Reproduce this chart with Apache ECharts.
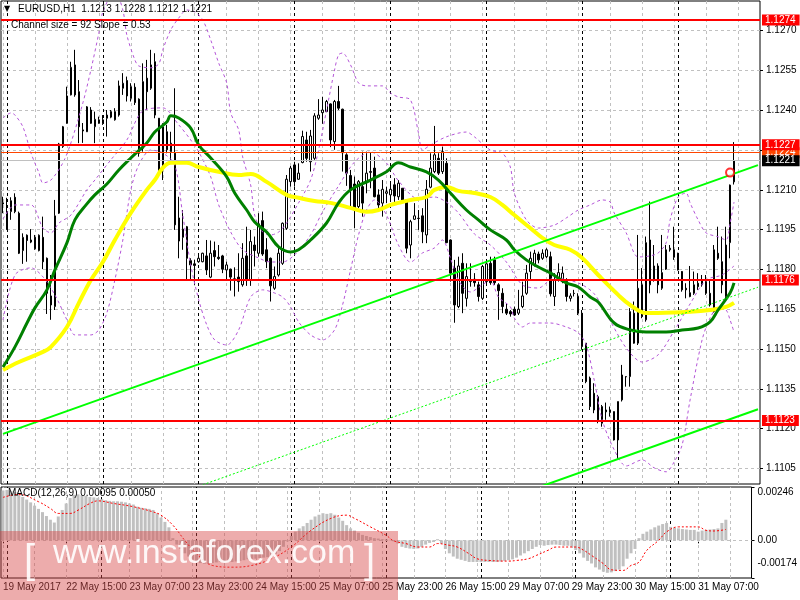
<!DOCTYPE html>
<html><head><meta charset="utf-8">
<script src="https://cdn.jsdelivr.net/npm/echarts@6/dist/echarts.min.js"></script>
<style>html,body{margin:0;padding:0;background:#fff}#c{width:800px;height:600px}</style>
</head><body><div id="c"></div>
<script>
// ---------- DATA ----------
const tickLabels = ['19 May 2017','22 May 15:00','23 May 07:00','23 May 23:00','24 May 15:00','25 May 07:00','25 May 23:00','26 May 15:00','29 May 07:00','29 May 23:00','30 May 15:00','31 May 07:00'];
const daySeparators = [1,25,49,73,97,121,145,169];
// [open, high, low, close]
const ohlc = [
[1.12051,1.12074,1.12012,1.12047],[1.11952,1.12070,1.11949,1.12012],[1.12018,1.12072,1.11987,1.12059],[1.12072,1.12087,1.12012,1.12018],
[1.12012,1.12018,1.11858,1.11861],[1.11871,1.11936,1.11821,1.11921],[1.11929,1.11932,1.11829,1.11909],[1.11903,1.11952,1.11899,1.11911],
[1.11921,1.11930,1.11874,1.11878],[1.11871,1.11932,1.11868,1.11929],[1.11921,1.11999,1.11801,1.11829],[1.11842,1.11845,1.11632,1.11710],
[1.11700,1.11779,1.11610,1.11666],[1.11660,1.12062,1.11647,1.12002],[1.12012,1.12277,1.12009,1.12273],[1.12263,1.12341,1.12258,1.12338],
[1.12351,1.12489,1.12349,1.12454],[1.12458,1.12583,1.12456,1.12562],[1.12571,1.12628,1.12451,1.12458],[1.12470,1.12514,1.12276,1.12338],
[1.12326,1.12352,1.12277,1.12322],[1.12319,1.12416,1.12318,1.12413],[1.12401,1.12412,1.12349,1.12351],[1.12338,1.12395,1.12276,1.12366],
[1.12351,1.12376,1.12349,1.12364],[1.12351,1.12382,1.12345,1.12364],[1.12370,1.12401,1.12301,1.12382],[1.12374,1.12401,1.12370,1.12395],
[1.12364,1.12408,1.12361,1.12395],[1.12382,1.12512,1.12376,1.12492],[1.12483,1.12540,1.12458,1.12502],[1.12512,1.12527,1.12433,1.12454],
[1.12445,1.12502,1.12433,1.12489],[1.12487,1.12502,1.12420,1.12429],[1.12442,1.12445,1.12225,1.12238],[1.12257,1.12577,1.12244,1.12508],
[1.12521,1.12590,1.12401,1.12470],[1.12483,1.12628,1.12477,1.12571],[1.12583,1.12615,1.12370,1.12382],[1.12370,1.12371,1.12172,1.12175],
[1.12182,1.12351,1.12137,1.12338],[1.12319,1.12345,1.12238,1.12251],[1.12244,1.12319,1.12200,1.12276],[1.12238,1.12483,1.11949,1.11968],
[1.11994,1.12074,1.11842,1.11907],[1.11921,1.12024,1.11874,1.11952],[1.11961,1.11964,1.11760,1.11842],[1.11833,1.11842,1.11760,1.11817],
[1.11821,1.11836,1.11742,1.11815],[1.11829,1.11855,1.11825,1.11842],[1.11829,1.11863,1.11827,1.11861],[1.11851,1.11911,1.11779,1.11798],
[1.11771,1.11909,1.11767,1.11861],[1.11871,1.11905,1.11811,1.11848],[1.11846,1.11892,1.11836,1.11841],[1.11851,1.11855,1.11786,1.11801],
[1.11798,1.11829,1.11760,1.11817],[1.11801,1.11803,1.11720,1.11771],[1.11760,1.11808,1.11698,1.11765],[1.11771,1.11861,1.11716,1.11754],
[1.11742,1.11899,1.11735,1.11842],[1.11851,1.11961,1.11738,1.11758],[1.11760,1.11949,1.11738,1.11905],[1.11892,1.11924,1.11811,1.11871],
[1.11861,1.12012,1.11848,1.11972],[1.11984,1.12018,1.11851,1.11858],[1.11874,1.11918,1.11805,1.11829],[1.11842,1.11845,1.11679,1.11738],
[1.11729,1.11811,1.11723,1.11773],[1.11779,1.11886,1.11773,1.11861],[1.11823,1.11977,1.11817,1.11974],[1.11955,1.12156,1.11949,1.12140],
[1.12131,1.12190,1.12112,1.12182],[1.12194,1.12206,1.12112,1.12131],[1.12140,1.12200,1.12138,1.12163],[1.12203,1.12323,1.12200,1.12301],
[1.12288,1.12319,1.12206,1.12219],[1.12206,1.12326,1.12169,1.12303],[1.12219,1.12389,1.12213,1.12379],[1.12370,1.12442,1.12364,1.12382],
[1.12391,1.12451,1.12349,1.12401],[1.12395,1.12439,1.12393,1.12433],[1.12424,1.12426,1.12261,1.12288],[1.12282,1.12439,1.12251,1.12433],
[1.12433,1.12492,1.12401,1.12408],[1.12404,1.12406,1.12169,1.12240],[1.12232,1.12238,1.12115,1.12163],[1.12154,1.12175,1.12037,1.12100],
[1.12122,1.12150,1.11955,1.12024],[1.12037,1.12137,1.12031,1.12131],[1.12112,1.12244,1.11999,1.12050],[1.12131,1.12244,1.12087,1.12163],
[1.12169,1.12240,1.12106,1.12166],[1.12182,1.12225,1.12072,1.12074],[1.12081,1.12102,1.12018,1.12043],[1.12050,1.12137,1.11999,1.12102],
[1.12087,1.12112,1.12050,1.12093],[1.12081,1.12131,1.12062,1.12102],[1.12119,1.12144,1.12050,1.12077],[1.12074,1.12137,1.12062,1.12125],
[1.12106,1.12107,1.12050,1.12062],[1.12062,1.12064,1.11861,1.11880],[1.11892,1.11987,1.11842,1.11980],[1.11989,1.12050,1.11987,1.12002],
[1.11993,1.12024,1.11949,1.11992],[1.12002,1.12031,1.11899,1.11942],[1.11930,1.12137,1.11899,1.12102],[1.12110,1.12238,1.12106,1.12182],
[1.12169,1.12341,1.12163,1.12232],[1.12219,1.12238,1.12156,1.12163],[1.12169,1.12263,1.12160,1.12244],[1.12200,1.12219,1.11899,1.11901],
[1.11911,1.11913,1.11754,1.11786],[1.11805,1.11836,1.11599,1.11666],[1.11660,1.11848,1.11654,1.11813],[1.11823,1.11861,1.11635,1.11710],
[1.11691,1.11823,1.11660,1.11773],[1.11754,1.11823,1.11735,1.11760],[1.11763,1.11786,1.11735,1.11750],[1.11742,1.11754,1.11679,1.11698],
[1.11691,1.11817,1.11685,1.11811],[1.11754,1.11838,1.11748,1.11821],[1.11823,1.11848,1.11742,1.11750],[1.11836,1.11848,1.11742,1.11750],
[1.11742,1.11748,1.11610,1.11720],[1.11710,1.11729,1.11635,1.11660],[1.11650,1.11673,1.11628,1.11635],[1.11641,1.11647,1.11622,1.11632],
[1.11650,1.11660,1.11625,1.11628],[1.11635,1.11723,1.11628,1.11650],[1.11660,1.11754,1.11654,1.11700],[1.11710,1.11817,1.11704,1.11786],
[1.11792,1.11867,1.11760,1.11842],[1.11817,1.11874,1.11811,1.11861],[1.11858,1.11867,1.11823,1.11836],[1.11842,1.11876,1.11836,1.11861],
[1.11848,1.11880,1.11842,1.11874],[1.11848,1.11867,1.11698,1.11708],[1.11698,1.11786,1.11662,1.11760],[1.11767,1.11823,1.11754,1.11788],
[1.11754,1.11811,1.11748,1.11786],[1.11754,1.11767,1.11679,1.11698],[1.11691,1.11710,1.11679,1.11700],[1.11710,1.11723,1.11698,1.11709],
[1.11698,1.11710,1.11628,1.11635],[1.11635,1.11647,1.11497,1.11509],[1.11522,1.11522,1.11371,1.11377],[1.11390,1.11396,1.11270,1.11283],
[1.11333,1.11371,1.11258,1.11270],[1.11320,1.11327,1.11220,1.11233],[1.11220,1.11289,1.11207,1.11283],[1.11270,1.11298,1.11233,1.11263],
[1.11260,1.11283,1.11245,1.11270],[1.11264,1.11264,1.11155,1.11157],[1.11157,1.11302,1.11082,1.11302],[1.11308,1.11440,1.11302,1.11402],
[1.11395,1.11397,1.11358,1.11396],[1.11396,1.11654,1.11358,1.11641],[1.11635,1.11679,1.11520,1.11522],[1.11522,1.11930,1.11515,1.11729],
[1.11742,1.11805,1.11616,1.11622],[1.11610,1.11924,1.11603,1.11901],[1.11911,1.12056,1.11710,1.11742],[1.11760,1.11892,1.11754,1.11813],
[1.11813,1.11823,1.11710,1.11742],[1.11729,1.11930,1.11723,1.11788],[1.11801,1.11892,1.11798,1.11874],[1.11874,1.11892,1.11867,1.11880],
[1.11874,1.11961,1.11836,1.11846],[1.11861,1.11863,1.11796,1.11798],[1.11792,1.11794,1.11716,1.11723],[1.11729,1.11748,1.11691,1.11723],
[1.11712,1.11813,1.11695,1.11698],[1.11710,1.11792,1.11704,1.11742],[1.11748,1.11786,1.11723,1.11735],[1.11742,1.11779,1.11735,1.11758],
[1.11754,1.11779,1.11704,1.11710],[1.11710,1.11760,1.11660,1.11666],[1.11641,1.11892,1.11637,1.11874],[1.11861,1.11961,1.11836,1.11842],
[1.11829,1.11924,1.11710,1.11742],[1.11698,1.11961,1.11691,1.11892],[1.11901,1.12120,1.11842,1.12118],[1.12130,1.12280,1.12120,1.12210]
];
// moving averages read as [barIndex, price]
const maYellow = [[0,1.11421],[4,1.11451],[10,1.11489],[12,1.11508],[16,1.11583],[19,1.11674],[22,1.11760],[25,1.11828],[28,1.11911],[32,1.12013],[36,1.12100],[38,1.12137],[40,1.12183],[42,1.12202],[46,1.12202],[49,1.12186],[54,1.12168],[59,1.12156],[62,1.12160],[66,1.12130],[71,1.12081],[74,1.12070],[78,1.12058],[82,1.12051],[87,1.12032],[91,1.12017],[94,1.12024],[97,1.12043],[99,1.12051],[102,1.12062],[106,1.12073],[108,1.12100],[111,1.12111],[114,1.12096],[118,1.12088],[122,1.12073],[125,1.12043],[128,1.12005],[132,1.11956],[135,1.11919],[138,1.11892],[142,1.11874],[145,1.11843],[149,1.11779],[154,1.11704],[157,1.11666],[161,1.11636],[164,1.11636],[172,1.11640],[177,1.11647],[181,1.11659],[183,1.11674]];
const maGreen = [[0,1.11432],[3,1.11508],[6,1.11598],[8,1.11655],[11,1.11723],[13,1.11798],[16,1.11900],[18,1.11987],[21,1.12047],[23,1.12081],[26,1.12122],[29,1.12175],[32,1.12220],[36,1.12277],[38,1.12318],[41,1.12356],[42,1.12379],[44,1.12371],[47,1.12333],[49,1.12269],[52,1.12220],[56,1.12149],[58,1.12088],[61,1.12024],[63,1.11979],[66,1.11941],[69,1.11885],[72,1.11866],[74,1.11874],[77,1.11911],[81,1.11975],[84,1.12051],[87,1.12100],[92,1.12137],[96,1.12168],[99,1.12202],[102,1.12186],[106,1.12168],[109,1.12137],[112,1.12088],[116,1.12024],[119,1.11987],[122,1.11949],[126,1.11911],[128,1.11874],[131,1.11836],[134,1.11809],[137,1.11787],[141,1.11749],[144,1.11734],[147,1.11696],[149,1.11677],[153,1.11598],[157,1.11572],[161,1.11564],[166,1.11564],[170,1.11572],[174,1.11579],[177,1.11602],[179,1.11647],[182,1.11711],[183,1.11749]];
// Bollinger-style bands (purple dashed): upper, middle, lower
const bandUpper = [[0,1.12371],[2,1.12390],[3,1.12382],[5,1.12337],[7,1.12239],[9,1.12164],[10,1.12126],[12,1.12137],[15,1.12202],[17,1.12277],[20,1.12428],[22,1.12552],[24,1.12692],[25,1.12771],[28,1.12850],[30,1.12778],[31,1.12684],[33,1.12590],[34,1.12567],[37,1.12560],[39,1.12575],[40,1.12628],[42,1.12703],[44,1.12748],[46,1.12778],[48,1.12771],[50,1.12741],[52,1.12665],[54,1.12578],[56,1.12503],[57,1.12390],[59,1.12326],[60,1.12224],[62,1.12118],[63,1.12005],[65,1.11941],[67,1.11930],[69,1.11941],[71,1.11975],[74,1.12051],[77,1.12137],[79,1.12250],[81,1.12401],[83,1.12552],[84,1.12609],[85,1.12616],[87,1.12571],[89,1.12503],[91,1.12492],[95,1.12492],[97,1.12465],[99,1.12450],[102,1.12439],[104,1.12315],[105,1.12250],[107,1.12269],[111,1.12300],[116,1.12318],[118,1.12300],[122,1.12250],[125,1.12239],[127,1.12186],[128,1.12088],[131,1.11987],[134,1.11956],[138,1.11967],[141,1.11994],[144,1.12024],[147,1.12043],[150,1.12062],[152,1.12054],[153,1.12013],[156,1.11938],[159,1.11847],[162,1.11851],[164,1.11862],[166,1.11900],[167,1.11987],[169,1.12073],[171,1.12088],[172,1.12051],[174,1.11987],[176,1.11938],[179,1.11923],[181,1.11911],[182,1.11972],[183,1.12054]];
const bandMiddle = [[0,1.11990],[3,1.12043],[7,1.12043],[10,1.11956],[12,1.11938],[14,1.11975],[17,1.12005],[21,1.12100],[23,1.12137],[27,1.12213],[31,1.12288],[35,1.12398],[40,1.12409],[44,1.12345],[47,1.12288],[49,1.12243],[52,1.12149],[54,1.12043],[57,1.11941],[60,1.11874],[64,1.11843],[67,1.11828],[70,1.11828],[73,1.11855],[77,1.11930],[80,1.12017],[84,1.12115],[88,1.12205],[92,1.12243],[96,1.12201],[99,1.12134],[104,1.12066],[108,1.12073],[111,1.12054],[114,1.12013],[118,1.11934],[122,1.11892],[126,1.11828],[130,1.11742],[134,1.11730],[138,1.11768],[144,1.11749],[148,1.11708],[152,1.11606],[156,1.11504],[160,1.11451],[164,1.11478],[168,1.11568],[172,1.11670],[176,1.11760],[180,1.11779],[183,1.11813]];
const bandLower = [[0,1.11610],[3,1.11779],[7,1.11806],[10,1.11772],[13,1.11704],[16,1.11610],[18,1.11553],[22,1.11553],[24,1.11572],[26,1.11636],[28,1.11760],[30,1.11911],[32,1.12100],[34,1.12194],[37,1.12250],[40,1.12239],[43,1.12194],[45,1.12005],[47,1.11817],[49,1.11685],[51,1.11591],[53,1.11534],[56,1.11515],[59,1.11572],[62,1.11696],[65,1.11723],[68,1.11711],[70,1.11696],[72,1.11659],[74,1.11602],[77,1.11553],[80,1.11534],[83,1.11572],[85,1.11666],[87,1.11798],[89,1.11930],[91,1.12024],[93,1.12062],[96,1.12005],[99,1.11892],[102,1.11828],[105,1.11862],[108,1.11881],[110,1.11911],[112,1.11843],[114,1.11760],[117,1.11715],[120,1.11742],[122,1.11760],[124,1.11696],[127,1.11659],[128,1.11617],[130,1.11583],[132,1.11598],[137,1.11598],[141,1.11583],[144,1.11561],[146,1.11515],[148,1.11383],[150,1.11233],[153,1.11120],[156,1.11059],[160,1.11082],[163,1.11052],[166,1.11037],[168,1.11074],[170,1.11138],[172,1.11308],[175,1.11534],[177,1.11617],[179,1.11655],[181,1.11647],[182,1.11610],[183,1.11564]];
const channelUpper = [[0,1.11180],[189,1.12193]];
const channelMiddle = [[0,1.10720],[189,1.11733]];
const channelLower = [[0,1.10260],[189,1.11273]];
const touchPoint = [[182,1.12165]];
const redLevels = [1.1274, 1.1227, 1.1176, 1.1123];
const orangeLevel = 1.1224;
const bidLevel = 1.1221;
const priceTicks = [1.1105,1.1120,1.1135,1.1150,1.1165,1.1180,1.1195,1.1210,1.1225,1.1240,1.1255,1.1270];
const macdHist = [
0.00230,0.00232,0.00228,0.00222,0.00212,0.00200,0.00188,0.00175,0.00160,0.00145,
0.00130,0.00112,0.00095,0.00082,0.00110,0.00140,0.00170,0.00195,0.00210,0.00212,
0.00208,0.00205,0.00200,0.00198,0.00195,0.00190,0.00185,0.00182,0.00180,0.00180,
0.00178,0.00175,0.00170,0.00165,0.00155,0.00150,0.00148,0.00145,0.00140,0.00125,
0.00105,0.00085,0.00060,0.00010,-0.00020,-0.00040,-0.00060,-0.00075,-0.00090,-0.00100,
-0.00105,-0.00108,-0.00108,-0.00105,-0.00102,-0.00100,-0.00100,-0.00100,-0.00100,-0.00098,
-0.00095,-0.00092,-0.00088,-0.00086,-0.00085,-0.00082,-0.00080,-0.00078,-0.00072,-0.00062,
-0.00050,-0.00030,-0.00005,0.00020,0.00040,0.00055,0.00065,0.00080,0.00095,0.00110,
0.00118,0.00125,0.00122,0.00125,0.00118,0.00105,0.00090,0.00070,0.00055,0.00045,
0.00035,0.00025,0.00020,0.00015,0.00010,0.00008,0.00005,0.00004,0.00002,-0.00005,
-0.00015,-0.00030,-0.00035,-0.00038,-0.00040,-0.00038,-0.00030,-0.00020,-0.00012,-0.00008,
0.00005,-0.00015,-0.00040,-0.00060,-0.00075,-0.00085,-0.00090,-0.00095,-0.00100,-0.00100,
-0.00100,-0.00100,-0.00100,-0.00100,-0.00100,-0.00100,-0.00098,-0.00095,-0.00092,-0.00088,
-0.00080,-0.00070,-0.00060,-0.00050,-0.00040,-0.00030,-0.00022,-0.00025,-0.00022,-0.00020,
-0.00020,-0.00022,-0.00025,-0.00025,-0.00030,-0.00045,-0.00060,-0.00080,-0.00095,-0.00107,
-0.00125,-0.00135,-0.00145,-0.00150,-0.00148,-0.00142,-0.00135,-0.00120,-0.00085,-0.00060,
-0.00040,0.00010,0.00030,0.00040,0.00050,0.00060,0.00068,0.00075,0.00080,0.00062,
0.00058,0.00055,0.00052,0.00050,0.00048,0.00048,0.00040,0.00045,0.00048,0.00050,
0.00052,0.00055,0.00080,0.00095];
const macdSignal = [[0,0.00198],[4,0.00212],[9,0.00178],[12,0.00147],[14,0.00124],[17,0.00124],[19,0.00139],[22,0.00170],[24,0.00182],[28,0.00170],[33,0.00155],[38,0.00131],[40,0.00116],[43,0.00070],[46,0.00000],[49,-0.00062],[53,-0.00116],[58,-0.00124],[63,-0.00116],[68,-0.00085],[73,-0.00031],[78,0.00046],[83,0.00101],[87,0.00116],[89,0.00101],[93,0.00062],[97,0.00023],[99,-0.00003],[102,-0.00015],[105,-0.00031],[108,-0.00031],[110,-0.00015],[113,-0.00023],[115,-0.00031],[118,-0.00062],[120,-0.00085],[123,-0.00093],[128,-0.00096],[130,-0.00093],[133,-0.00085],[135,-0.00070],[138,-0.00046],[140,-0.00031],[145,-0.00031],[147,-0.00046],[149,-0.00070],[152,-0.00108],[154,-0.00136],[157,-0.00139],[159,-0.00116],[161,-0.00101],[163,-0.00046],[166,0.00000],[168,0.00039],[171,0.00062],[176,0.00062],[178,0.00046],[180,0.00043],[183,0.00050]];
const macdTicks = [-0.00174, 0, 0.00246];

// ---------- CHART ----------
const N = 190;
const cats = Array.from({length: N}, (_, i) => String(i));
const FONT = "'Liberation Sans', Arial, 'DejaVu Sans', sans-serif";
const GREY = '#c0c0c0';
const PURPLE = '#b455d8';
const nulls = cats.map(() => null);

function vLines() {
  const out = [];
  for (let i = 0; i < N; i += 8) out.push({xAxis: String(i), lineStyle: {color: GREY, type: [3, 3], width: 1}});
  daySeparators.forEach(d => out.push({xAxis: String(d), lineStyle: {color: '#000', type: [3, 3], width: 1}}));
  return out;
}
function lvl(v, color, width, bg) {
  return {yAxis: v, lineStyle: {color: color, width: width, type: 'solid'},
    label: {show: true, position: 'end', distance: 2, formatter: v.toFixed(4), color: '#fff',
      backgroundColor: bg, padding: [1, 4, 0, 3], fontSize: 10, fontFamily: FONT, lineHeight: 10}};
}
const levelLines = [lvl(orangeLevel, '#ff4500', 1, '#ff4500')]
  .concat(redLevels.map(v => lvl(v, '#ff0000', 2, '#ff0000')))
  .concat([lvl(bidLevel, GREY, 1, '#000000')]);
function band(name, data) {
  return {type: 'line', name: name, data: data, smooth: 0.3, showSymbol: false, z: 4,
    lineStyle: {color: PURPLE, width: 1, type: [3, 3]}};
}

const chart = echarts.init(document.getElementById('c'), null, {width: 800, height: 600});
const option = {
  animation: false,
  backgroundColor: '#fff',
  textStyle: {fontFamily: FONT},
  grid: [
    {left: 1, top: 1, width: 759, height: 483, show: true, borderColor: '#000', borderWidth: 1, backgroundColor: 'transparent'},
    {left: 1, top: 487, width: 759, height: 91, show: true, borderColor: '#000', borderWidth: 1, backgroundColor: 'transparent'}
  ],
  xAxis: [
    {type: 'category', gridIndex: 0, data: cats, boundaryGap: true,
      axisLine: {show: false}, axisTick: {show: false}, axisLabel: {show: false}, splitLine: {show: false}},
    {type: 'category', gridIndex: 1, data: cats, boundaryGap: true,
      axisLine: {show: false},
      axisTick: {show: true, alignWithLabel: true, interval: 15, length: 3, lineStyle: {color: '#000'}},
      axisLabel: {show: true, interval: 15, align: 'left', margin: 4, fontSize: 10, color: '#000', fontFamily: FONT,
        formatter: (v, idx) => tickLabels[Math.round(idx / 16)] || ''},
      splitLine: {show: false}}
  ],
  yAxis: [
    {type: 'value', gridIndex: 0, position: 'right', min: 1.10991, max: 1.12812, scale: true,
      axisLine: {show: false},
      axisTick: {show: true, length: 3, lineStyle: {color: '#000'}, customValues: priceTicks},
      axisLabel: {show: true, customValues: priceTicks, margin: 6, fontSize: 10, color: '#000', fontFamily: FONT,
        formatter: v => v.toFixed(4)},
      splitLine: {show: true, lineStyle: {color: GREY, type: [3, 3]}}},
    {type: 'value', gridIndex: 1, position: 'right', min: -0.00174, max: 0.00246,
      axisLine: {show: false},
      axisTick: {show: true, length: 3, lineStyle: {color: '#000'}, customValues: macdTicks},
      axisLabel: {show: true, customValues: macdTicks, margin: 6, fontSize: 10, color: '#000', fontFamily: FONT,
        formatter: v => v === 0 ? '0.00' : (v > 0 ? '{t|' + v.toFixed(5) + '}' : '{b|' + v.toFixed(5) + '}'),
        rich: {t: {fontSize: 10, padding: [10, 0, 0, 0]}, b: {fontSize: 10, padding: [0, 0, 30, 0]}}},
      splitLine: {show: false}}
  ],
  series: [
    {type: 'line', name: 'gridMain', xAxisIndex: 0, yAxisIndex: 0, data: nulls, showSymbol: false, silent: true, z: 1,
      markLine: {silent: true, precision: 6, symbol: ['none', 'none'], label: {show: false}, z: 1, data: vLines()}},
    {type: 'candlestick', name: 'EURUSD', xAxisIndex: 0, yAxisIndex: 0, z: 3, barWidth: 2,
      data: ohlc.map(d => [d[0], d[3], d[2], d[1]]),
      itemStyle: {color: '#ffffff', color0: '#000000', borderColor: '#000000', borderColor0: '#000000', borderWidth: 1}},
    band('bandUpper', bandUpper),
    band('bandMiddle', bandMiddle),
    band('bandLower', bandLower),
    {type: 'line', name: 'maYellow', data: maYellow, smooth: 0.4, showSymbol: false, z: 5,
      lineStyle: {color: '#ffff00', width: 4}},
    {type: 'line', name: 'maGreen', data: maGreen, smooth: 0.4, showSymbol: false, z: 5,
      lineStyle: {color: '#008000', width: 3}},
    {type: 'line', name: 'chUp', data: channelUpper, showSymbol: false, z: 6, lineStyle: {color: '#00ff00', width: 2}},
    {type: 'line', name: 'chMid', data: channelMiddle, showSymbol: false, z: 6, lineStyle: {color: '#00ff00', width: 1, type: [2, 2]}},
    {type: 'line', name: 'chLow', data: channelLower, showSymbol: false, z: 6, lineStyle: {color: '#00ff00', width: 2}},
    {type: 'scatter', name: 'touch', data: touchPoint, symbol: 'emptyCircle', symbolSize: 8, z: 8,
      itemStyle: {color: '#ff0000', borderColor: '#ff0000', borderWidth: 1}},
    {type: 'line', name: 'levels', xAxisIndex: 0, yAxisIndex: 0, data: nulls, showSymbol: false, silent: true, z: 7,
      markLine: {silent: true, precision: 6, symbol: ['none', 'none'], z: 7, data: levelLines}},
    {type: 'line', name: 'gridMacd', xAxisIndex: 1, yAxisIndex: 1, data: nulls, showSymbol: false, silent: true, z: 1,
      markLine: {silent: true, precision: 6, symbol: ['none', 'none'], label: {show: false}, z: 1,
        data: vLines().concat([{yAxis: 0, lineStyle: {color: GREY, type: [3, 3], width: 1}}])}},
    {type: 'bar', name: 'MACD', xAxisIndex: 1, yAxisIndex: 1, data: macdHist, barWidth: 3, z: 3,
      itemStyle: {color: '#c0c0c0'}},
    {type: 'line', name: 'Signal', xAxisIndex: 1, yAxisIndex: 1, data: macdSignal, smooth: 0.4, showSymbol: false, z: 4,
      lineStyle: {color: '#ff0000', width: 1, type: [2, 2]}}
  ],
  graphic: [
    {type: 'text', left: 4, top: 5, z: 50, style: {text: '▼', fontSize: 8, fill: '#000', fontFamily: "'DejaVu Sans', sans-serif"}},
    {type: 'text', left: 18, top: 4, z: 50, style: {text: 'EURUSD,H1  1.1213 1.1228 1.1212 1.1221', fontSize: 10, fill: '#000', fontFamily: FONT}},
    {type: 'text', left: 11, top: 20, z: 50, style: {text: 'Channel size = 92 Slope = 0.53', fontSize: 10, fill: '#000', fontFamily: FONT}},
    {type: 'text', left: 8, top: 488, z: 50, style: {text: 'MACD(12,26,9) 0.00095 0.00050', fontSize: 10, fill: '#000', fontFamily: FONT}},
    {type: 'rect', z: 60, shape: {x: 0, y: 531, width: 398, height: 69}, style: {fill: 'rgba(214,70,70,0.45)'}},
    {type: 'text', z: 61, left: 24, top: 542, style: {text: '[', fontSize: 40, fill: 'rgba(255,255,255,0.9)', fontFamily: FONT}},
    {type: 'text', z: 61, left: 53, top: 537, style: {text: 'www.instaforex.com', fontSize: 34, fill: 'rgba(255,255,255,0.9)', fontFamily: FONT}},
    {type: 'text', z: 61, left: 364, top: 542, style: {text: ']', fontSize: 40, fill: 'rgba(255,255,255,0.9)', fontFamily: FONT}}
  ]
};
chart.setOption(option);
</script>
</body></html>
